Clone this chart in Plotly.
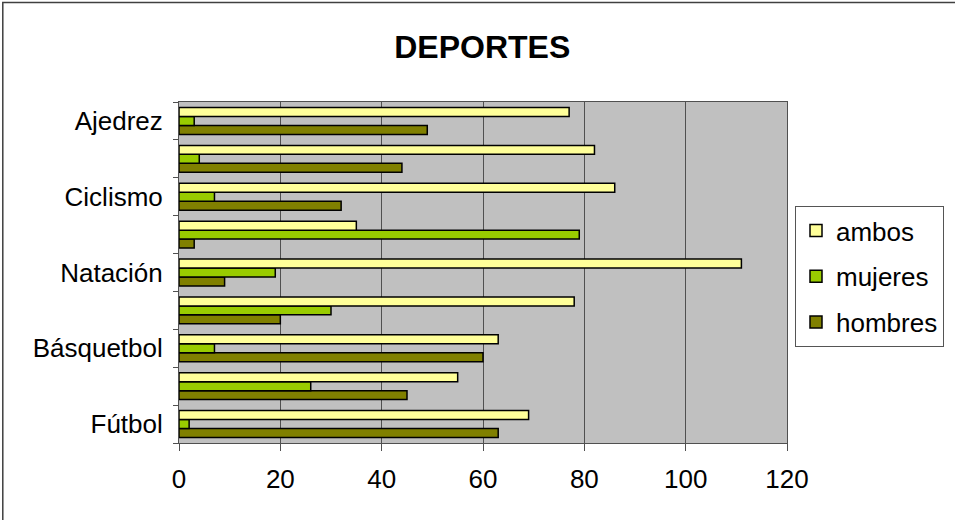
import plotly.graph_objects as go

# Sports survey: positions run bottom to top; only every other category is labelled
positions = [0, 1, 2, 3, 4, 5, 6, 7, 8]
tick_positions = [0, 2, 4, 6, 8]
tick_labels = ["Fútbol", "Básquetbol", "Natación", "Ciclismo", "Ajedrez"]

hombres = [63, 45, 60, 20, 9, 3, 32, 44, 49]
mujeres = [2, 26, 7, 30, 19, 79, 7, 4, 3]
ambos = [69, 55, 63, 78, 111, 35, 86, 82, 77]

FONT = "Liberation Sans, Arial, sans-serif"

fig = go.Figure()
series = [("hombres", hombres, "#808000", 3),
          ("mujeres", mujeres, "#99CC00", 2),
          ("ambos", ambos, "#FFFF99", 1)]
for name, vals, color, rank in series:
    fig.add_trace(go.Bar(
        y=positions, x=vals, name=name, orientation="h",
        legendgroup=name, legendrank=rank,
        marker=dict(color=color, line=dict(color="black", width=1.5)),
    ))

W, H = 955, 520
L, R, T, B = 179, 167, 102, 77
pw, ph = W - L - R, H - T - B

def px_to_paper_x(px):
    return (px - L) / pw

def px_to_paper_y(py):
    return (H - B - py) / ph

fig.update_layout(
    width=W, height=H,
    margin=dict(l=L, r=R, t=T, b=B),
    paper_bgcolor="white",
    plot_bgcolor="#C0C0C0",
    font=dict(family=FONT, size=26, color="black"),
    title=dict(text="<b>DEPORTES</b>", x=0.505, xanchor="center",
               y=1 - 47 / H, yanchor="middle",
               font=dict(family=FONT, size=32, color="black")),
    barmode="group",
    bargap=0.29,
    bargroupgap=0,
    showlegend=True,
    legend=dict(
        x=px_to_paper_x(795), y=px_to_paper_y(206),
        xanchor="left", yanchor="top",
        traceorder="grouped",
        tracegroupgap=9,
        bgcolor="white", bordercolor="#555555", borderwidth=1,
        font=dict(family=FONT, size=26),
    ),
    xaxis=dict(
        range=[0, 120], tickvals=[0, 20, 40, 60, 80, 100, 120],
        showgrid=True, gridcolor="#505050", gridwidth=1,
        showline=True, linecolor="#505050", linewidth=1, mirror=True,
        ticks="outside", ticklen=7, tickcolor="#505050",
        ticklabelstandoff=6, zeroline=False,
        tickfont=dict(family=FONT, size=26),
    ),
    yaxis=dict(
        range=[-0.5, 8.5], tickvals=tick_positions, ticktext=tick_labels,
        showgrid=False, zeroline=False,
        showline=True, linecolor="#505050", linewidth=1, mirror=True,
        ticks="", ticklabelstandoff=10,
        minor=dict(ticks="outside", tick0=-0.5, dtick=1, ticklen=5,
                   tickcolor="#505050", showgrid=False),
        tickfont=dict(family=FONT, size=26),
    ),
    shapes=[dict(
        type="rect", xref="paper", yref="paper",
        x0=px_to_paper_x(2.5), x1=px_to_paper_x(960),
        y0=px_to_paper_y(525), y1=px_to_paper_y(2.5),
        line=dict(color="#404040", width=1.5), fillcolor="rgba(0,0,0,0)",
        layer="below",
    )],
)

fig.write_html("out.html")
